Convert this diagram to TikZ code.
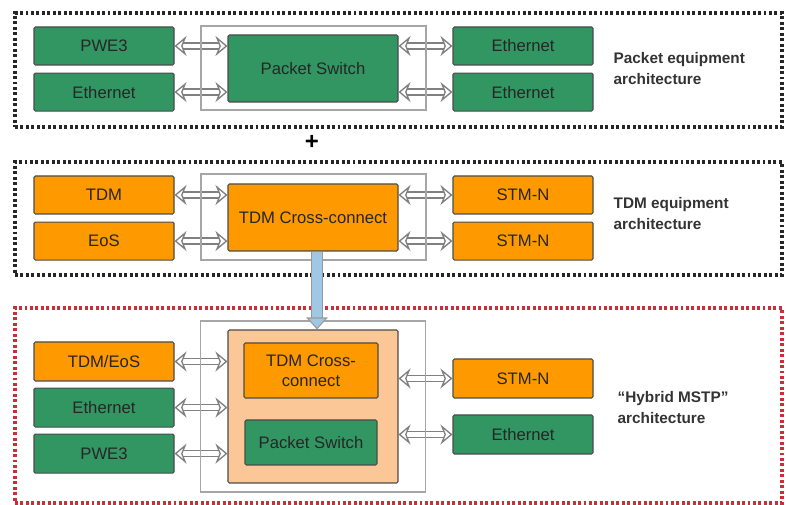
\documentclass[tikz,border=0pt]{standalone}
\usepackage{fontspec}
\setmainfont{Liberation Sans}
\usetikzlibrary{positioning, arrows.meta}

\definecolor{pktgreen}{RGB}{50,150,98}
\definecolor{tdmorange}{RGB}{255,153,0}
\definecolor{hybpeach}{RGB}{251,199,150}
\definecolor{hybred}{RGB}{205,45,55}
\definecolor{feedblue}{RGB}{160,200,228}

\begin{document}
\begin{tikzpicture}[
	x=0.75pt, y=-0.75pt,
	font=\fontsize{12.5}{15}\selectfont,
	% Define styles
	group/.style={rectangle, draw=black!85, line width=2.4pt, dash pattern=on 2.2pt off 1.9pt, minimum width=575.25pt, inner sep=0pt},
	unit/.style={rectangle, draw=black!70, line width=0.8pt, rounded corners=1pt, minimum width=105pt, minimum height=28.5pt, inner sep=0pt, text=black!85, align=center},
	pkt/.style={unit, fill=pktgreen},
	tdm/.style={unit, fill=tdmorange},
	core/.style={unit, minimum width=127.5pt, minimum height=50.25pt},
	frame/.style={rectangle, draw=gray!70, line width=1pt, minimum width=168.75pt, inner sep=0pt},
	caption/.style={anchor=west, align=left, text=black!80, font=\fontsize{11.5}{15.75}\selectfont\bfseries},
	link/.style={draw=black!50, line width=1pt, double=white, double distance=3.5pt, {Stealth[fill=white, length=9pt, width=15pt, inset=3pt]}-{Stealth[fill=white, length=9pt, width=15pt, inset=3pt]}},
	feed/.style={draw=gray!80, line width=0.8pt, double=feedblue, double distance=7pt, -{Triangle[fill=feedblue, length=9pt, width=16pt]}}
	]
	\useasboundingbox (0,0) rectangle (786,505);
	
	% 1. Group outlines
	\node[group, minimum height=85.5pt] (pktgroup) at (398.5,70) {};
	\node[group, minimum height=84.75pt] (tdmgroup) at (398.5,218.5) {};
	\node[group, draw=hybred, minimum height=146.25pt] (hybgroup) at (398.5,405.5) {};
	
	% 2. Packet equipment
	\node[pkt] (pwe3) at (104,46) {PWE3};
	\node[pkt, below=5.25pt of pwe3] (ethl) {Ethernet};
	\node[pkt, fill=pktgreen, core] (psw) at (313,68.5) {Packet Switch};
	\node[pkt] (ethra) at (523,46) {Ethernet};
	\node[pkt, below=5.25pt of ethra] (ethrb) {Ethernet};
	\node[caption] (pktcap) at (609,68.5) {Packet equipment\\architecture};
	
	\draw[link] (pwe3.east) -- (pwe3.east -| psw.west);
	\draw[link] (ethl.east) -- (ethl.east -| psw.west);
	\draw[link] (psw.east |- ethra.west) -- (ethra.west);
	\draw[link] (psw.east |- ethrb.west) -- (ethrb.west);
	\node[frame, minimum height=63pt] (pktframe) at (313.5,68) {};
	
	\node[font=\fontsize{18}{18}\selectfont\bfseries] (plus) at (312,142) {+};
	
	% 3. TDM equipment
	\node[tdm] (tdml) at (104,195) {TDM};
	\node[tdm, below=5.25pt of tdml] (eos) {EoS};
	\node[tdm, core, fill=tdmorange] (xc) at (313,217.5) {TDM Cross-connect};
	\node[tdm] (stma) at (523,195) {STM-N};
	\node[tdm, below=5.25pt of stma] (stmb) {STM-N};
	\node[caption] (tdmcap) at (609,214) {TDM equipment\\architecture};
	
	\draw[link] (tdml.east) -- (tdml.east -| xc.west);
	\draw[link] (eos.east) -- (eos.east -| xc.west);
	\draw[link] (xc.east |- stma.west) -- (stma.west);
	\draw[link] (xc.east |- stmb.west) -- (stmb.west);
	\node[frame, minimum height=64.5pt] (tdmframe) at (313.5,217) {};
	
	% 4. Hybrid MSTP
	\node[unit, fill=hybpeach, minimum width=127.5pt, minimum height=114.75pt] (hyb) at (313,406.5) {};
	\node[tdm, minimum width=100.5pt, minimum height=41.25pt] (hybxc) at (311,370.5) {TDM Cross-\\connect};
	\node[pkt, minimum width=99pt, minimum height=33.75pt] (hybpsw) at (311,442.5) {Packet Switch};
	\node[tdm, minimum height=29.25pt] (tdmeos) at (104,361.5) {TDM/EoS};
	\node[pkt, minimum height=29.25pt, below=4.5pt of tdmeos] (hybeth) {Ethernet};
	\node[pkt, minimum height=29.25pt, below=4.5pt of hybeth] (hybpwe) {PWE3};
	\node[tdm, minimum height=29.25pt] (hybstm) at (523,378.5) {STM-N};
	\node[pkt, minimum height=29.25pt] (hybethr) at (523,434.5) {Ethernet};
	\node[caption] (hybcap) at (613,408) {“Hybrid MSTP”\\architecture};
	
	\draw[link] (tdmeos.east) -- (tdmeos.east -| hyb.west);
	\draw[link] (hybeth.east) -- (hybeth.east -| hyb.west);
	\draw[link] (hybpwe.east) -- (hybpwe.east -| hyb.west);
	\draw[link] (hyb.east |- hybstm.west) -- (hybstm.west);
	\draw[link] (hyb.east |- hybethr.west) -- (hybethr.west);
	\node[frame, minimum height=128.25pt] (hybframe) at (313,406.5) {};
	
	% Migration arrow
	\draw[feed] ([xshift=3pt]xc.south) -- ([xshift=3pt]hyb.north);
\end{tikzpicture}
\end{document}
